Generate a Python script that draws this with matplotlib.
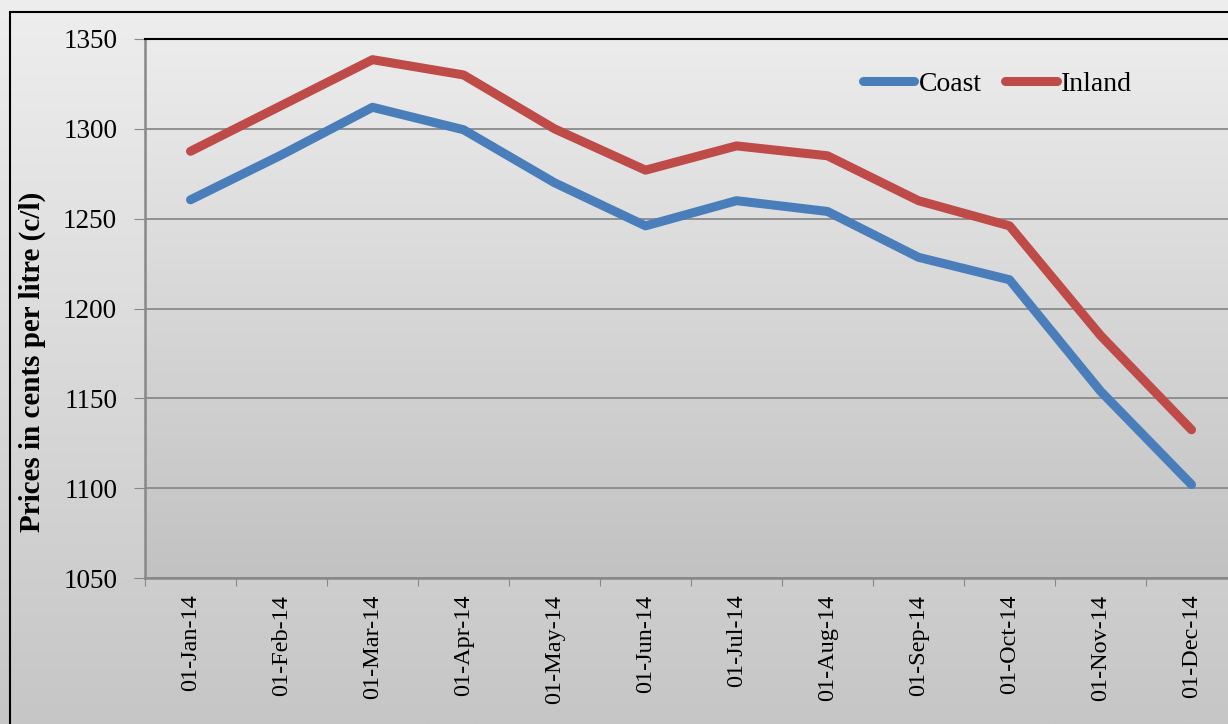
import numpy as np
import matplotlib
matplotlib.use("Agg")
import matplotlib.pyplot as plt
from matplotlib.patches import Rectangle
from matplotlib.colors import LinearSegmentedColormap

categories = ["01-Jan-14", "01-Feb-14", "01-Mar-14", "01-Apr-14", "01-May-14", "01-Jun-14",
              "01-Jul-14", "01-Aug-14", "01-Sep-14", "01-Oct-14", "01-Nov-14", "01-Dec-14"]
coast = [1260.5, 1285.5, 1312, 1299.5, 1270, 1246, 1260, 1254, 1228.5, 1216, 1154, 1102]
inland = [1287.5, 1313, 1338.5, 1330, 1300, 1277, 1290.5, 1285, 1260, 1246, 1185, 1132.5]
yticks = [1050, 1100, 1150, 1200, 1250, 1300, 1350]

plt.rcParams['font.family'] = ['Liberation Serif', 'DejaVu Serif']

W, H = 1228, 724
fig = plt.figure(figsize=(W / 100, H / 100), dpi=100)

# background gradient
bg = fig.add_axes([0, 0, 1, 1], zorder=-10)
grad = np.linspace(0, 1, 256).reshape(-1, 1)
cmap = LinearSegmentedColormap.from_list("g", ["#c6c6c6", "#eeeeee"])
bg.imshow(grad, aspect="auto", cmap=cmap, extent=[0, 1, 0, 1], origin="lower")
bg.set_xlim(0, 1); bg.set_ylim(0, 1)
bg.axis("off")
bg.add_patch(Rectangle((10 / W, -0.1), 1.2, 1 - 12 / H + 0.1, fill=False, ec="black", lw=1.5,
                       transform=bg.transAxes, clip_on=False))

left, right = 145 / W, 1237 / W
top, bottom = 1 - 39 / H, 1 - 578 / H
ax = fig.add_axes([left, bottom, right - left, top - bottom])
ax.patch.set_alpha(0)
cmap2 = LinearSegmentedColormap.from_list("g2", ["#c2c2c2", "#ececec"])
x = np.arange(len(categories))
ax.imshow(grad, aspect="auto", cmap=cmap2, extent=[-0.5, len(categories) - 0.5, 1050, 1350],
          origin="lower", zorder=0)

ax.plot(x, coast, color="#4a7ebb", lw=6.5, solid_capstyle="round", solid_joinstyle="round",
        label="Coast", zorder=3)
ax.plot(x, inland, color="#be4b48", lw=6.5, solid_capstyle="round", solid_joinstyle="round",
        label="Inland", zorder=3)

ax.set_xlim(-0.5, len(categories) - 0.5)
ax.set_ylim(1050, 1350)
ax.set_yticks(yticks)
ax.set_yticklabels([str(v) for v in yticks], fontsize=19.5)
ax.set_xticks(np.arange(len(categories) + 1) - 0.5, minor=False)
ax.set_xticklabels([])
ax.set_xticks(x, minor=True)
ax.set_xticklabels(categories, minor=True, rotation=90, fontsize=17.5)
ax.tick_params(axis="x", which="minor", length=0, pad=12)
ax.tick_params(axis="x", which="major", length=6, color="#888888", direction="out")
ax.tick_params(axis="y", length=8, color="#888888", direction="out", pad=12)
ax.grid(axis="y", color="#8a8a8a", lw=1.3, zorder=1)
for s in ["left", "bottom"]:
    ax.spines[s].set_color("#888888")
    ax.spines[s].set_linewidth(1.8)
ax.spines["top"].set_color("black")
ax.spines["top"].set_linewidth(1.5)
ax.spines["right"].set_visible(False)

ax.set_ylabel("Prices in cents per litre (c/l)", fontsize=21, fontweight="bold")
ax.yaxis.set_label_coords((46 - 145) / 1092, 1 - (361.5 - 39) / 539)

ax.legend(loc="center left", bbox_to_anchor=((863 - 145) / 1092, 1 - (84 - 39) / 539), ncol=2,
          frameon=False, fontsize=20, handlelength=1.85, handletextpad=0.15, columnspacing=0.85,
          borderpad=0, borderaxespad=0)

fig.savefig("out.png", dpi=100)
